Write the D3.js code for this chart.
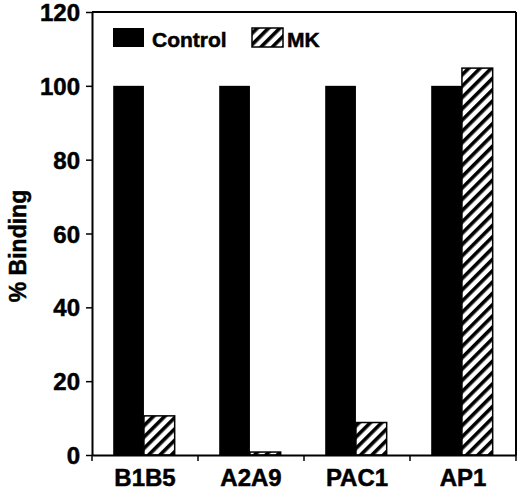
<!DOCTYPE html>
<html><head><meta charset="utf-8">
<script src="https://cdn.jsdelivr.net/npm/d3@7"></script>
<style>html,body{margin:0;padding:0;background:#fff;}svg{display:block;}</style>
</head><body>
<svg id="chart" width="520" height="491"></svg>
<script>
const categories = ["B1B5", "A2A9", "PAC1", "AP1"];
const seriesNames = ["Control", "MK"];
const controlValues = [100, 100, 100, 100];
const mkValues = [10.6, 0.8, 8.8, 104.8];
const yTicks = [0, 20, 40, 60, 80, 100, 120];

const svg = d3.select("#chart");
const m = {left: 92, right: 516, top: 12, bottom: 455};
const font = "'Liberation Sans', Arial, sans-serif";

const defs = svg.append("defs");
const pat = defs.append("pattern").attr("id", "hatch").attr("patternUnits", "userSpaceOnUse")
  .attr("width", 8).attr("height", 8).attr("patternTransform", "rotate(45)");
pat.append("rect").attr("width", 8).attr("height", 8).attr("fill", "#fff");
pat.append("rect").attr("x", 0).attr("y", 0).attr("width", 3.6).attr("height", 8).attr("fill", "#000");

const x = d3.scaleBand().domain(categories).range([m.left, m.right]).padding(0);
const xs = d3.scaleBand().domain(seriesNames).range([x.bandwidth() * 0.2, x.bandwidth() * 0.78]);
const y = d3.scaleLinear().domain([0, 120]).range([m.bottom, m.top]);

const data = categories.map((c, i) => ({cat: c, vals: [
  {s: "Control", v: controlValues[i]}, {s: "MK", v: mkValues[i]}]}));

const g = svg.append("g");
g.selectAll("g.grp").data(data).join("g").attr("class", "grp")
  .attr("transform", d => `translate(${x(d.cat)},0)`)
  .selectAll("rect").data(d => d.vals).join("rect")
  .attr("x", d => xs(d.s)).attr("width", xs.bandwidth())
  .attr("y", d => y(d.v)).attr("height", d => y(0) - y(d.v))
  .attr("fill", d => d.s === "Control" ? "#000" : "url(#hatch)")
  .attr("stroke", "#000").attr("stroke-width", d => d.s === "Control" ? 0 : 1.5);

// frame
svg.append("line").attr("x1", m.left).attr("x2", m.right).attr("y1", y(120)).attr("y2", y(120)).attr("stroke", "#000").attr("stroke-width", 2);
svg.append("line").attr("x1", m.right).attr("x2", m.right).attr("y1", y(120)).attr("y2", y(0)).attr("stroke", "#000").attr("stroke-width", 2);

function heavy(sel, size) {
  sel.attr("font-family", font).attr("font-size", size).attr("font-weight", "bold")
    .attr("fill", "#000").attr("stroke", "#000").attr("stroke-width", 0.5);
}

// y axis
const ya = svg.append("g").attr("transform", `translate(${m.left},0)`)
  .call(d3.axisLeft(y).tickValues(yTicks).tickSize(6).tickPadding(6).tickSizeOuter(0));
ya.select(".domain").attr("stroke-width", 2);
ya.selectAll(".tick line").attr("stroke-width", 1.5);
heavy(ya.selectAll("text"), 24);
ya.selectAll("text").attr("dy", "0.36em");

// x axis
const xa = svg.append("g").attr("transform", `translate(0,${m.bottom})`)
  .call(d3.axisBottom(x).tickSize(0).tickPadding(14).tickSizeOuter(0));
xa.select(".domain").attr("stroke-width", 2);
heavy(xa.selectAll("text"), 24);
xa.selectAll("text").attr("dy", "0.7em");
// boundary ticks
svg.append("g").selectAll("line").data(categories.concat(["_end"])).join("line")
  .attr("x1", (d, i) => m.left + i * x.bandwidth()).attr("x2", (d, i) => m.left + i * x.bandwidth())
  .attr("y1", m.bottom).attr("y2", m.bottom + 6).attr("stroke", "#000").attr("stroke-width", 1.5);

// y title
heavy(svg.append("text").attr("transform", `translate(26,246) rotate(-90)`).attr("text-anchor", "middle")
  .text("% Binding"), 23);

// legend
const leg = [{s: "Control", bx: 113, tx: 152}, {s: "MK", bx: 252, tx: 287}];
const lg = svg.append("g");
lg.selectAll("rect").data(leg).join("rect")
  .attr("x", d => d.bx).attr("y", 28).attr("width", 31).attr("height", 19)
  .attr("fill", d => d.s === "Control" ? "#000" : "url(#hatch)")
  .attr("stroke", "#000").attr("stroke-width", d => d.s === "Control" ? 0 : 1.5);
heavy(lg.selectAll("text").data(leg).join("text")
  .attr("x", d => d.tx).attr("y", 47).text(d => d.s), 21);
</script>
</body></html>
